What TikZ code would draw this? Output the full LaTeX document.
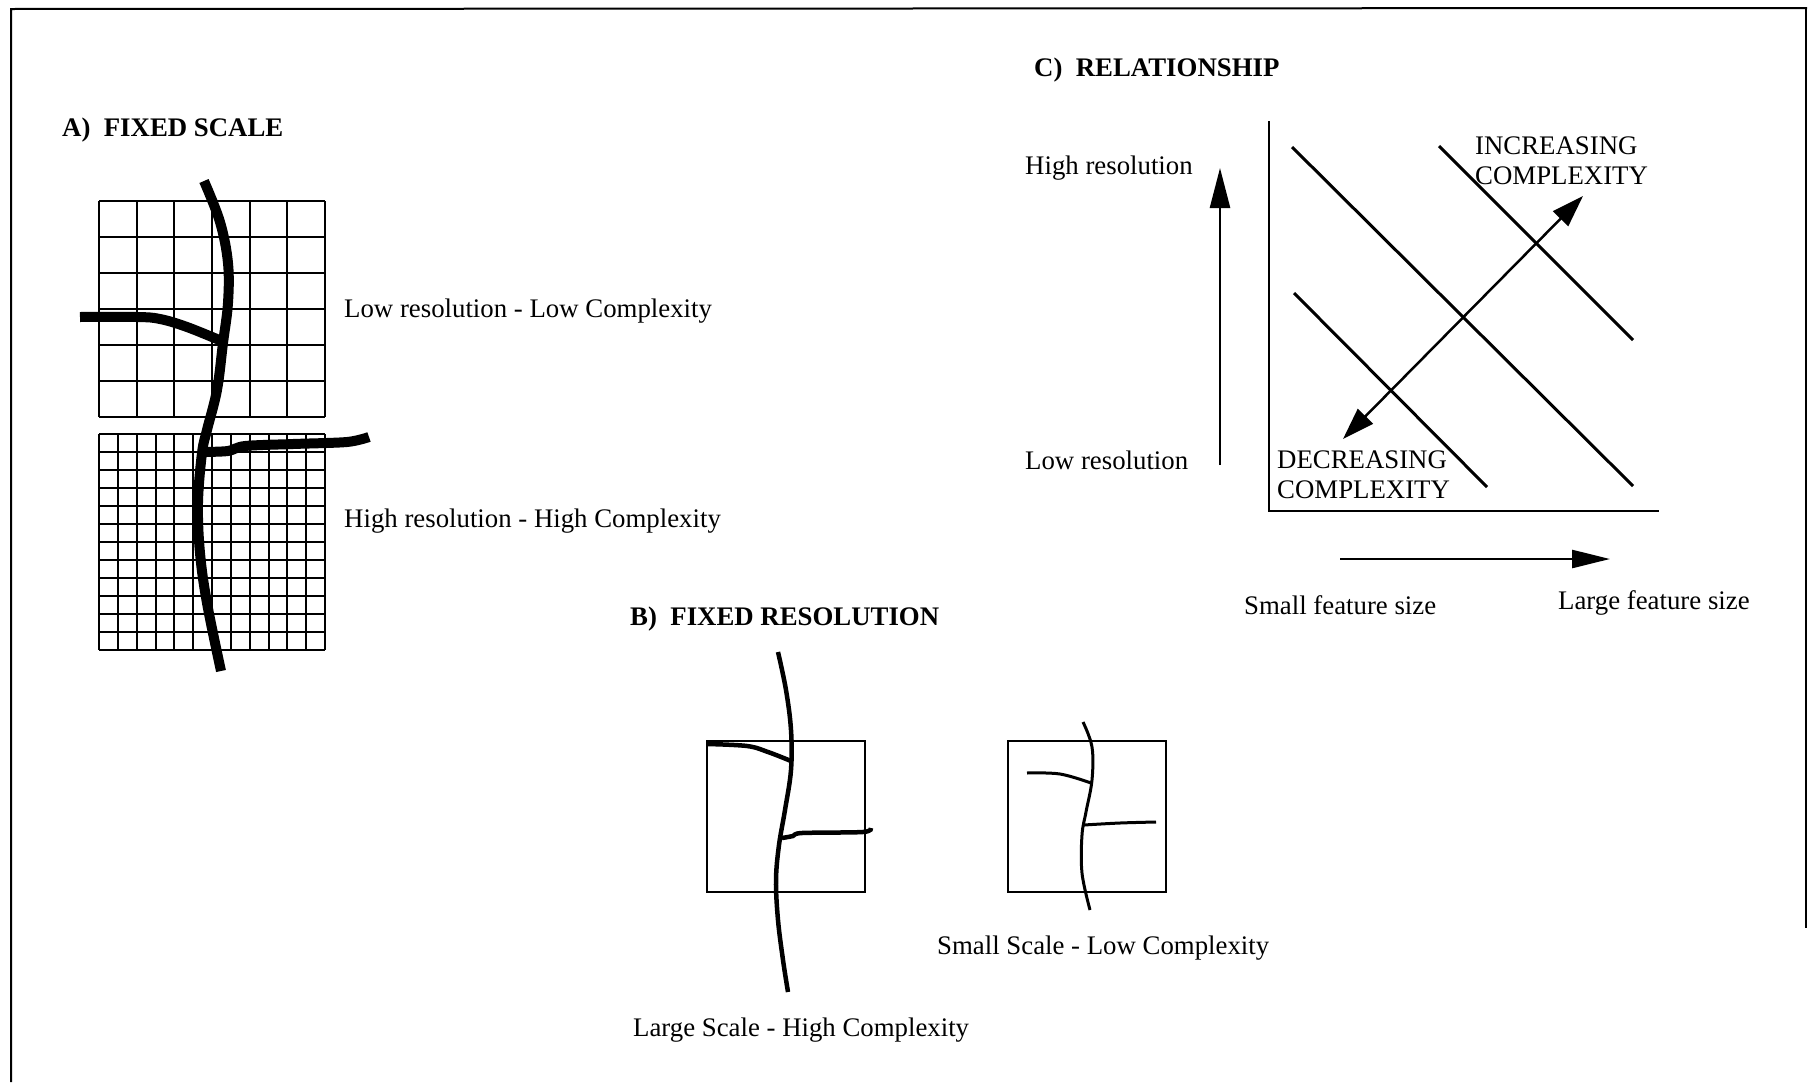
\documentclass[tikz,border=0pt]{standalone}
\usepackage{fontspec}
\setmainfont{Liberation Serif}
\usetikzlibrary{arrows.meta}

\tikzset{
  lbl/.style={anchor=west, inner sep=0pt, font=\fontsize{26.8}{30}\selectfont, align=left},
  ttl/.style={lbl, font=\fontsize{26.8}{30}\selectfont\bfseries},
  frame/.style={line width=2pt},
  gridline/.style={line width=2pt},
  bigriver/.style={line width=10pt},
  midriver/.style={line width=4.5pt},
  smallriver/.style={line width=3pt},
  boxline/.style={line width=2pt},
  axis/.style={line width=2.2pt},
  contour/.style={line width=3pt},
  uparrow/.style={line width=2.5pt, -{Triangle[length=40pt,width=20pt]}},
  rightarrow/.style={line width=2.5pt, -{Triangle[length=38pt,width=18pt]}},
  twoway/.style={line width=2.5pt, {Triangle[length=32pt,width=21pt]}-{Triangle[length=32pt,width=21pt]}}
}

\begin{document}
\begin{tikzpicture}[x=1pt,y=-1pt]
\useasboundingbox (0,0) rectangle (1810,1082);

% outer frame (open at the bottom)
\draw[frame] (11,1082) -- (11,9) -- (1807,8);
\draw[frame] (1806,8) -- (1806,928);

% ---------- A) fixed scale ----------
\node[ttl] (titleA) at (62,130) {A)\ \ FIXED SCALE};

% coarse grid, 6 x 6
\foreach \i in {0,...,6} {
  \draw[gridline] ({99+\i*226/6},201) -- ({99+\i*226/6},417);
  \draw[gridline] (99,{201+\i*36}) -- (325,{201+\i*36});
}
% fine grid, 12 x 12
\foreach \i in {0,...,12} {
  \draw[gridline] ({99+\i*226/12},434) -- ({99+\i*226/12},650);
  \draw[gridline] (99,{434+\i*18}) -- (325,{434+\i*18});
}

% stream network over both grids
\draw[bigriver] plot[smooth, tension=0.6] coordinates {
  (204,181) (220,222) (228,263) (228,303) (223,343) (217,390)
  (207,430) (202,453) (198,503) (200,553) (207,603) (221,671)};
\draw[bigriver] plot[smooth, tension=0.6] coordinates {
  (80,317) (137,317) (160,319) (187,327) (224,342)};
\draw[bigriver] plot[smooth, tension=0.5] coordinates {
  (203,452) (228,451) (245,446) (293,444) (347,442) (369,437)};

\node[lbl] (lowres) at (344,311) {Low resolution - Low Complexity};
\node[lbl] (highres) at (344,521) {High resolution - High Complexity};

% ---------- B) fixed resolution ----------
\node[ttl] (titleB) at (630,619) {B)\ \ FIXED RESOLUTION};

\draw[boxline] (707,741) rectangle (865,892);
\draw[midriver] plot[smooth, tension=0.6] coordinates {
  (778,652) (786,690) (791,730) (791,770) (785,810) (779,845)
  (776,880) (778,920) (783,960) (788,992)};
\draw[midriver] plot[smooth, tension=0.6] coordinates {
  (707,744) (747,746) (768,752) (791,761)};
\draw[midriver] plot[smooth, tension=0.5] coordinates {
  (782,838) (793,836) (802,833) (863,832) (871,828)};
\node[lbl] (largescale) at (633,1030) {Large Scale - High Complexity};

\draw[boxline] (1008,741) rectangle (1166,892);
\draw[smallriver] plot[smooth, tension=0.6] coordinates {
  (1083,722) (1092,747) (1092,780) (1086,812) (1082,835) (1082,873) (1090,910)};
\draw[smallriver] plot[smooth, tension=0.6] coordinates {
  (1027,773) (1060,774) (1091,783)};
\draw[smallriver] plot[smooth, tension=0.6] coordinates {
  (1084,825) (1120,823) (1156,822)};
\node[lbl] (smallscale) at (937,948) {Small Scale - Low Complexity};

% ---------- C) relationship ----------
\node[ttl] (titleC) at (1034,70) {C)\ \ RELATIONSHIP};

\node[lbl] (hires) at (1025,168) {High resolution};
\node[lbl] (lores) at (1025,460) {Low resolution};

\coordinate (vtail) at (1220,465);
\coordinate (vtip) at (1220,168);
\draw[uparrow] (vtail) -- (vtip);

\coordinate (origin) at (1269,511);
\draw[axis] (1269,121) -- (origin) -- (1659,511);

% lines of equal complexity
\draw[contour] (1292,147) -- (1633,486);
\draw[contour] (1439,146) -- (1633,340);
\draw[contour] (1294,293) -- (1487,487);

\coordinate (dlow) at (1343,439);
\coordinate (dhigh) at (1583,196);
\draw[twoway] (dlow) -- (dhigh);

\node[lbl] (inc) at (1475,161) {INCREASING\\COMPLEXITY};
\node[lbl] (dec) at (1277,475) {DECREASING\\COMPLEXITY};

\coordinate (htail) at (1340,559);
\coordinate (htip) at (1610,559);
\draw[rightarrow] (htail) -- (htip);

\node[lbl] (smallfeat) at (1244,605) {Small feature size};
\node[lbl] (largefeat) at (1558,603) {Large feature size};

\end{tikzpicture}
\end{document}
